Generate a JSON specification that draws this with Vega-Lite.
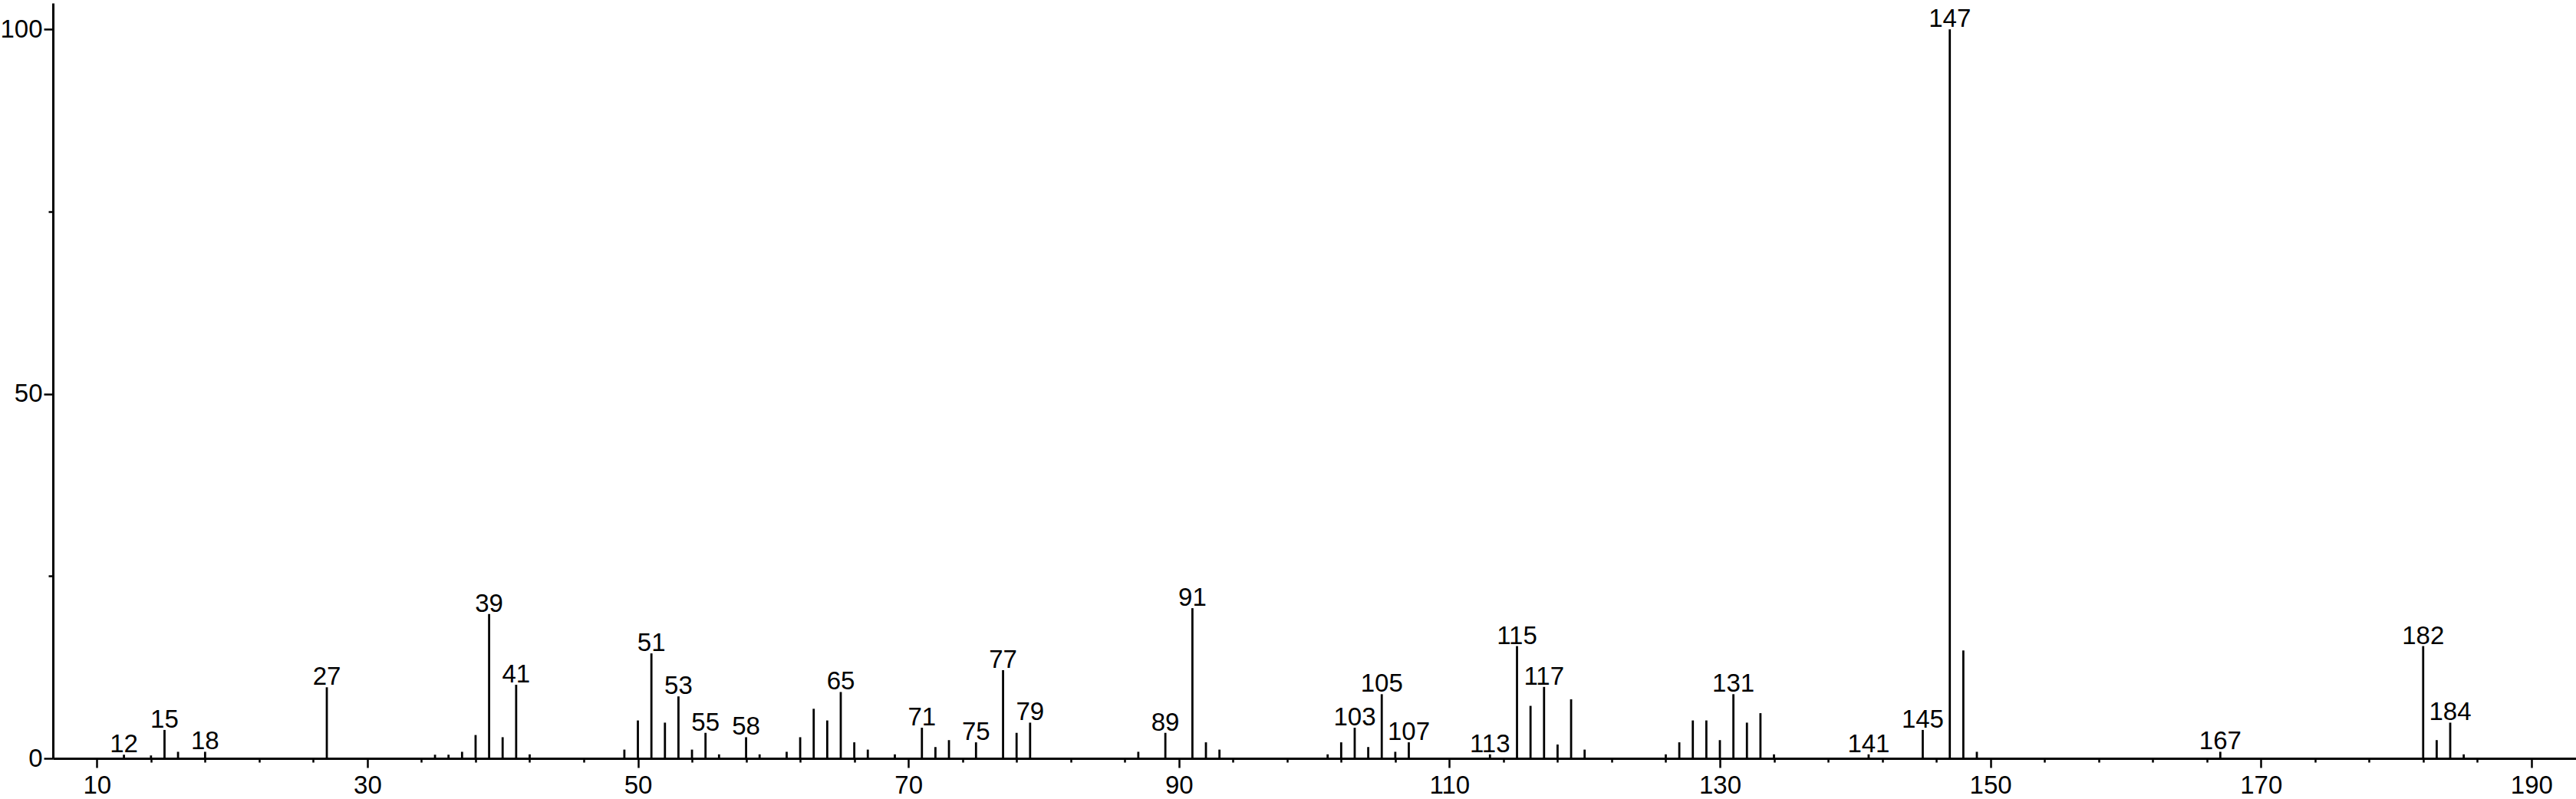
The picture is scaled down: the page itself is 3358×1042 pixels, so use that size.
{
  "$schema": "https://vega.github.io/schema/vega-lite/v6.json",
  "width": 3289,
  "height": 985,
  "autosize": {"type": "none"},
  "padding": {"left": 69, "top": 4, "right": 0, "bottom": 53},
  "background": "white",
  "config": {"view": {"stroke": null}, "font": "Liberation Sans"},
  "data": {
    "values": [
      {"mz": 12, "i": 0.5, "lab": true},
      {"mz": 14, "i": 0.4, "lab": false},
      {"mz": 15, "i": 3.9, "lab": true},
      {"mz": 16, "i": 0.9, "lab": false},
      {"mz": 18, "i": 0.9, "lab": true},
      {"mz": 27, "i": 9.75, "lab": true},
      {"mz": 35, "i": 0.5, "lab": false},
      {"mz": 36, "i": 0.5, "lab": false},
      {"mz": 37, "i": 0.9, "lab": false},
      {"mz": 38, "i": 3.2, "lab": false},
      {"mz": 39, "i": 19.8, "lab": true},
      {"mz": 40, "i": 2.9, "lab": false},
      {"mz": 41, "i": 10.1, "lab": true},
      {"mz": 42, "i": 0.55, "lab": false},
      {"mz": 49, "i": 1.2, "lab": false},
      {"mz": 50, "i": 5.2, "lab": false},
      {"mz": 51, "i": 14.4, "lab": true},
      {"mz": 52, "i": 4.9, "lab": false},
      {"mz": 53, "i": 8.5, "lab": true},
      {"mz": 54, "i": 1.2, "lab": false},
      {"mz": 55, "i": 3.5, "lab": true},
      {"mz": 56, "i": 0.55, "lab": false},
      {"mz": 58, "i": 2.9, "lab": true},
      {"mz": 59, "i": 0.55, "lab": false},
      {"mz": 61, "i": 0.9, "lab": false},
      {"mz": 62, "i": 2.9, "lab": false},
      {"mz": 63, "i": 6.8, "lab": false},
      {"mz": 64, "i": 5.2, "lab": false},
      {"mz": 65, "i": 9.1, "lab": true},
      {"mz": 66, "i": 2.2, "lab": false},
      {"mz": 67, "i": 1.2, "lab": false},
      {"mz": 69, "i": 0.55, "lab": false},
      {"mz": 71, "i": 4.2, "lab": true},
      {"mz": 72, "i": 1.55, "lab": false},
      {"mz": 73, "i": 2.5, "lab": false},
      {"mz": 75, "i": 2.2, "lab": true},
      {"mz": 77, "i": 12.1, "lab": true},
      {"mz": 78, "i": 3.5, "lab": false},
      {"mz": 79, "i": 4.9, "lab": true},
      {"mz": 87, "i": 0.9, "lab": false},
      {"mz": 89, "i": 3.5, "lab": true},
      {"mz": 91, "i": 20.6, "lab": true},
      {"mz": 92, "i": 2.2, "lab": false},
      {"mz": 93, "i": 1.2, "lab": false},
      {"mz": 101, "i": 0.55, "lab": false},
      {"mz": 102, "i": 2.2, "lab": false},
      {"mz": 103, "i": 4.2, "lab": true},
      {"mz": 104, "i": 1.55, "lab": false},
      {"mz": 105, "i": 8.8, "lab": true},
      {"mz": 106, "i": 0.9, "lab": false},
      {"mz": 107, "i": 2.2, "lab": true},
      {"mz": 113, "i": 0.55, "lab": true},
      {"mz": 115, "i": 15.4, "lab": true},
      {"mz": 116, "i": 7.2, "lab": false},
      {"mz": 117, "i": 9.8, "lab": true},
      {"mz": 118, "i": 1.9, "lab": false},
      {"mz": 119, "i": 8.1, "lab": false},
      {"mz": 120, "i": 1.2, "lab": false},
      {"mz": 126, "i": 0.55, "lab": false},
      {"mz": 127, "i": 2.2, "lab": false},
      {"mz": 128, "i": 5.2, "lab": false},
      {"mz": 129, "i": 5.2, "lab": false},
      {"mz": 130, "i": 2.5, "lab": false},
      {"mz": 131, "i": 8.8, "lab": true},
      {"mz": 132, "i": 4.9, "lab": false},
      {"mz": 133, "i": 6.2, "lab": false},
      {"mz": 134, "i": 0.55, "lab": false},
      {"mz": 141, "i": 0.55, "lab": true},
      {"mz": 145, "i": 3.9, "lab": true},
      {"mz": 147, "i": 100, "lab": true},
      {"mz": 148, "i": 14.8, "lab": false},
      {"mz": 149, "i": 0.9, "lab": false},
      {"mz": 167, "i": 0.9, "lab": true},
      {"mz": 182, "i": 15.4, "lab": true},
      {"mz": 183, "i": 2.5, "lab": false},
      {"mz": 184, "i": 4.9, "lab": true},
      {"mz": 185, "i": 0.55, "lab": false}
    ]
  },
  "layer": [
    {
      "mark": {"type": "rule", "color": "black", "strokeWidth": 2.8},
      "encoding": {
        "x": {
          "field": "mz",
          "type": "quantitative",
          "scale": {"domain": [6.75, 193.3], "nice": false, "zero": false},
          "axis": {
            "title": null,
            "grid": false,
            "values": [10,12,14,16,18,20,22,24,26,28,30,32,34,36,38,40,42,44,46,48,50,52,54,56,58,60,62,64,66,68,70,72,74,76,78,80,82,84,86,88,90,92,94,96,98,100,102,104,106,108,110,112,114,116,118,120,122,124,126,128,130,132,134,136,138,140,142,144,146,148,150,152,154,156,158,160,162,164,166,168,170,172,174,176,178,180,182,184,186,188,190],
            "labelExpr": "datum.value % 10 === 0 ? datum.label : ''",
            "tickSize": {"condition": {"test": "datum.value % 10 === 0", "value": 12}, "value": 5},
            "tickWidth": 2.5,
            "tickColor": "black",
            "domainColor": "black",
            "domainWidth": 3,
            "labelFontSize": 33,
            "labelColor": "black",
            "labelPadding": 7,
            "labelOverlap": false,
            "labelFlush": false
          }
        },
        "y": {
          "field": "i",
          "type": "quantitative",
          "scale": {"domain": [0, 103.6], "nice": false},
          "axis": {
            "title": null,
            "grid": false,
            "values": [0, 25, 50, 75, 100],
            "labelExpr": "datum.value % 50 === 0 ? datum.label : ''",
            "tickSize": {"condition": {"test": "datum.value % 50 === 0", "value": 12}, "value": 6},
            "tickWidth": 2.5,
            "tickColor": "black",
            "domainColor": "black",
            "domainWidth": 3,
            "labelFontSize": 33,
            "labelColor": "black",
            "labelPadding": 2,
            "labelOverlap": false,
            "labelFlush": false
          }
        },
        "y2": {"datum": 0}
      }
    },
    {
      "transform": [{"filter": "datum.lab"}],
      "mark": {"type": "text", "fontSize": 33, "baseline": "alphabetic", "dy": -3, "color": "black"},
      "encoding": {
        "x": {"field": "mz", "type": "quantitative"},
        "y": {"field": "i", "type": "quantitative"},
        "text": {"field": "mz", "type": "nominal"}
      }
    }
  ]
}
